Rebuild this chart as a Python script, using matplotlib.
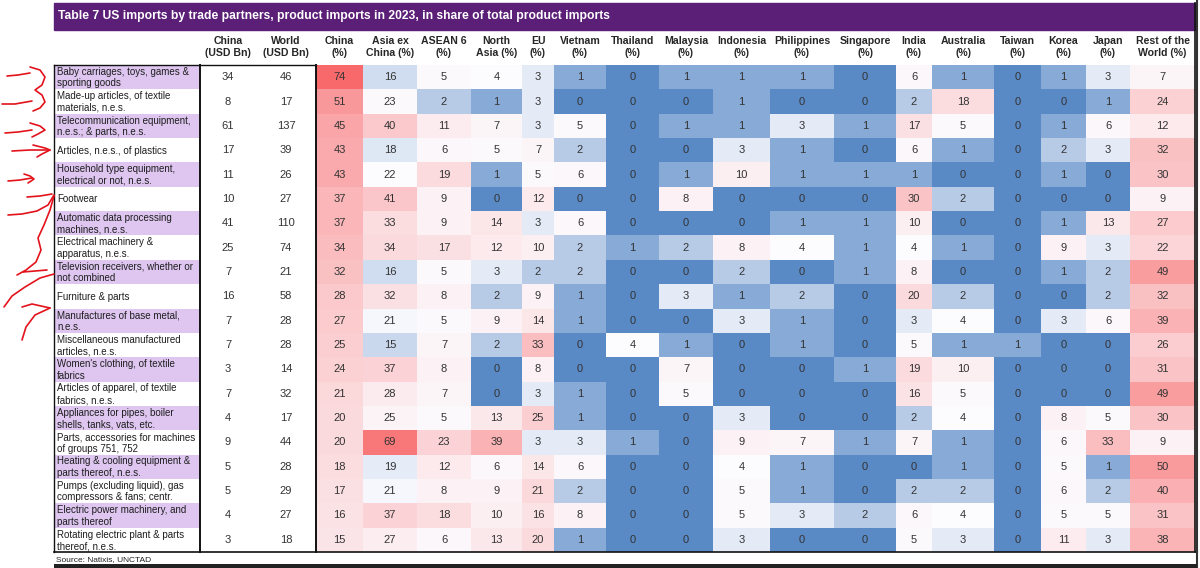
import numpy as np
import matplotlib
matplotlib.use("Agg")
import matplotlib.pyplot as plt
from matplotlib.colors import LinearSegmentedColormap, TwoSlopeNorm
from matplotlib.patches import Rectangle

plt.rcParams['font.family'] = ['Liberation Sans', 'DejaVu Sans']

title = "Table 7 US imports by trade partners, product imports in 2023, in share of total product imports"

products = [
    "Baby carriages, toys, games &\nsporting goods",
    "Made-up articles, of textile\nmaterials, n.e.s.",
    "Telecommunication equipment,\nn.e.s.; & parts, n.e.s.",
    "Articles, n.e.s., of plastics",
    "Household type equipment,\nelectrical or not, n.e.s.",
    "Footwear",
    "Automatic data processing\nmachines, n.e.s.",
    "Electrical machinery &\napparatus, n.e.s.",
    "Television receivers, whether or\nnot combined",
    "Furniture & parts",
    "Manufactures of base metal,\nn.e.s.",
    "Miscellaneous manufactured\narticles, n.e.s.",
    "Women's clothing, of textile\nfabrics",
    "Articles of apparel, of textile\nfabrics, n.e.s.",
    "Appliances for pipes, boiler\nshells, tanks, vats, etc.",
    "Parts, accessories for machines\nof groups 751, 752",
    "Heating & cooling equipment &\nparts thereof, n.e.s.",
    "Pumps (excluding liquid), gas\ncompressors & fans; centr.",
    "Electric power machinery, and\nparts thereof",
    "Rotating electric plant & parts\nthereof, n.e.s.",
]

china_usd = [34, 8, 61, 17, 11, 10, 41, 25, 7, 16, 7, 7, 3, 7, 4, 9, 5, 5, 4, 3]
world_usd = [46, 17, 137, 39, 26, 27, 110, 74, 21, 58, 28, 28, 14, 32, 17, 44, 28, 29, 27, 18]

china_pct = [74, 51, 45, 43, 43, 37, 37, 34, 32, 28, 27, 25, 24, 21, 20, 20, 18, 17, 16, 15]
asia_ex_china = [16, 23, 40, 18, 22, 41, 33, 34, 16, 32, 21, 15, 37, 28, 25, 69, 19, 21, 37, 27]
asean6 = [5, 2, 11, 6, 19, 9, 9, 17, 5, 8, 5, 7, 8, 7, 5, 23, 12, 8, 18, 6]
north_asia = [4, 1, 7, 5, 1, 0, 14, 12, 3, 2, 9, 2, 0, 0, 13, 39, 6, 9, 10, 13]
eu = [3, 3, 3, 7, 5, 12, 3, 10, 2, 9, 14, 33, 8, 3, 25, 3, 14, 21, 16, 20]
vietnam = [1, 0, 5, 2, 6, 0, 6, 2, 2, 1, 1, 0, 0, 1, 1, 3, 6, 2, 8, 1]
thailand = [0, 0, 0, 0, 0, 0, 0, 1, 0, 0, 0, 4, 0, 0, 0, 1, 0, 0, 0, 0]
malaysia = [1, 0, 1, 0, 1, 8, 0, 2, 0, 3, 0, 1, 7, 5, 0, 0, 0, 0, 0, 0]
indonesia = [1, 1, 1, 3, 10, 0, 0, 8, 2, 1, 3, 0, 0, 0, 3, 9, 4, 5, 5, 3]
philippines = [1, 0, 3, 1, 1, 0, 1, 4, 0, 2, 1, 1, 0, 0, 0, 7, 1, 1, 3, 0]
singapore = [0, 0, 1, 0, 1, 0, 1, 1, 1, 0, 0, 0, 1, 0, 0, 1, 0, 0, 2, 0]
india = [6, 2, 17, 6, 1, 30, 10, 4, 8, 20, 3, 5, 19, 16, 2, 7, 0, 2, 6, 5]
australia = [1, 18, 5, 1, 0, 2, 0, 1, 0, 2, 4, 1, 10, 5, 4, 1, 1, 2, 4, 3]
taiwan = [0, 0, 0, 0, 0, 0, 0, 0, 0, 0, 0, 1, 0, 0, 0, 0, 0, 0, 0, 0]
korea = [1, 0, 1, 2, 1, 0, 1, 9, 1, 0, 3, 0, 0, 0, 8, 6, 5, 6, 5, 11]
japan = [3, 1, 6, 3, 0, 0, 13, 3, 2, 2, 6, 0, 0, 0, 5, 33, 1, 2, 5, 3]
rest_world = [7, 24, 12, 32, 30, 9, 27, 22, 49, 32, 39, 26, 31, 49, 30, 9, 50, 40, 31, 38]

usd_headers = ["China\n(USD Bn)", "World\n(USD Bn)"]
pct_headers = ["China\n(%)", "Asia ex\nChina (%)", "ASEAN 6\n(%)", "North\nAsia (%)", "EU\n(%)",
               "Vietnam\n(%)", "Thailand\n(%)", "Malaysia\n(%)", "Indonesia\n(%)", "Philippines\n(%)",
               "Singapore\n(%)", "India\n(%)", "Australia\n(%)", "Taiwan\n(%)", "Korea\n(%)",
               "Japan\n(%)", "Rest of the\nWorld (%)"]
pct = np.array([china_pct, asia_ex_china, asean6, north_asia, eu, vietnam, thailand, malaysia,
                indonesia, philippines, singapore, india, australia, taiwan, korea, japan,
                rest_world], dtype=float).T

# layout in pixels
W, H = 1200, 568
left, lab_right, usd_mid, usd_right = 54, 200, 256, 316
pct_edges = np.array([316, 363, 417, 471, 522, 554, 606, 659, 713, 770, 834, 896, 932,
                      994, 1041, 1086, 1130, 1195])
tab_top, tab_bot = 65, 552
n = len(products)
row_edges = np.linspace(tab_top, tab_bot, n + 1)
row_mid = (row_edges[:-1] + row_edges[1:]) / 2
col_mid = (pct_edges[:-1] + pct_edges[1:]) / 2

cmap = LinearSegmentedColormap.from_list("xl", ["#5A8AC6", "#FCFCFF", "#F8696B"])
base_norm = TwoSlopeNorm(vmin=0, vcenter=3.5, vmax=74)
asia_norm = TwoSlopeNorm(vmin=0, vcenter=22, vmax=74)
scaled = np.zeros_like(pct)
for j in range(pct.shape[1]):
    nm = asia_norm if j == 1 else base_norm
    scaled[:, j] = np.asarray(nm(pct[:, j]))

fig = plt.figure(figsize=(12, 5.68), dpi=100)
ax = fig.add_axes([0, 0, 1, 1])
ax.set_xlim(0, W)
ax.set_ylim(H, 0)
ax.axis('off')

# title bar
ax.add_patch(Rectangle((left, 3), 1195 - left, 27, color="#5B1F78", zorder=1))
ax.text(left + 4, 16.5, title, color="white", fontsize=8.7, fontweight="bold", va="center", ha="left")

# heat cells
ax.pcolormesh(pct_edges, row_edges, scaled, cmap=cmap, vmin=0, vmax=1, zorder=1)

val_fs = 8
# label backgrounds and cell texts
for i in range(n):
    if i % 2 == 0:
        ax.add_patch(Rectangle((left, row_edges[i]), lab_right - left, row_edges[i + 1] - row_edges[i],
                               color="#DEC6F0", lw=0, zorder=1))
    ax.text(left + 3, row_mid[i] + 0.5, products[i], fontsize=7, color="#1e1e1e", va="center", ha="left",
            linespacing=1.2, zorder=3)
    ax.text((lab_right + usd_mid) / 2, row_mid[i], str(china_usd[i]), fontsize=val_fs, color="#333333",
            va="center", ha="center", zorder=3)
    ax.text((usd_mid + usd_right) / 2, row_mid[i], str(world_usd[i]), fontsize=val_fs, color="#333333",
            va="center", ha="center", zorder=3)
    for j in range(pct.shape[1]):
        ax.text(col_mid[j], row_mid[i], "%d" % pct[i, j], fontsize=val_fs, color="#333333",
                va="center", ha="center", zorder=3)

# headers
hdr_y = 47
hdr_fs = 7.6
ax.text((lab_right + usd_mid) / 2, hdr_y, usd_headers[0], fontsize=hdr_fs, fontweight="bold",
        color="#262626", ha="center", va="center", linespacing=1.3)
ax.text((usd_mid + usd_right) / 2, hdr_y, usd_headers[1], fontsize=hdr_fs, fontweight="bold",
        color="#262626", ha="center", va="center", linespacing=1.3)
for j, h in enumerate(pct_headers):
    ax.text(col_mid[j], hdr_y, h, fontsize=hdr_fs, fontweight="bold", color="#262626",
            ha="center", va="center", linespacing=1.3)

# borders
k = "#111111"
ax.plot([lab_right, lab_right], [tab_top, tab_bot], color=k, lw=1.4, zorder=4)
ax.plot([usd_right, usd_right], [tab_top, tab_bot], color=k, lw=1.4, zorder=4)
ax.plot([left, usd_right], [tab_top, tab_top], color=k, lw=1.0, zorder=4)
ax.plot([left, left], [tab_top, tab_bot], color=k, lw=1.0, zorder=4)
ax.plot([left, 1195], [tab_bot, tab_bot], color=k, lw=1.2, zorder=4)
ax.plot([1195, 1195], [3, tab_bot], color=k, lw=1.2, zorder=4)
ax.plot([1197, 1197], [0, H], color="#333333", lw=1.5, zorder=4)
ax.add_patch(Rectangle((left, 564), 1197 - left, 4, color="#222222", lw=0, zorder=4))
ax.text(left + 2, 559.5, "Source: Natixis, UNCTAD", fontsize=6, color="#222222", va="center", ha="left")

# hand-drawn red marks on the left margin
scribbles = [
    [(7, 76), (18, 75), (30, 73)],
    [(30, 67), (40, 70), (45, 77), (42, 85), (35, 90), (42, 95), (45, 102), (40, 108), (33, 111)],
    [(2, 104), (15, 104), (32, 101)],
    [(5, 133), (18, 132), (32, 130)],
    [(30, 123), (40, 126), (45, 130), (38, 134), (32, 137)],
    [(12, 151), (30, 150), (50, 150)],
    [(33, 145), (45, 148), (50, 150), (42, 154), (37, 157)],
    [(8, 181), (20, 180), (32, 178)],
    [(24, 174), (30, 176), (34, 179), (28, 183)],
    [(27, 197), (40, 196), (52, 194)],
    [(8, 215), (22, 214), (37, 211), (48, 205), (54, 195)],
    [(54, 196), (50, 210), (44, 225), (38, 238), (41, 250), (36, 262), (26, 270), (17, 275)],
    [(23, 272), (35, 271), (47, 270)],
    [(54, 274), (40, 278), (25, 287), (12, 296), (4, 307)],
    [(22, 307), (32, 304), (50, 308)],
    [(50, 308), (35, 315), (26, 327), (22, 340)],
]
for s in scribbles:
    xs, ys = zip(*s)
    ax.plot(xs, ys, color="#E3121B", lw=1.2, solid_capstyle="round", solid_joinstyle="round", zorder=5)

fig.savefig("out.png", dpi=100)
